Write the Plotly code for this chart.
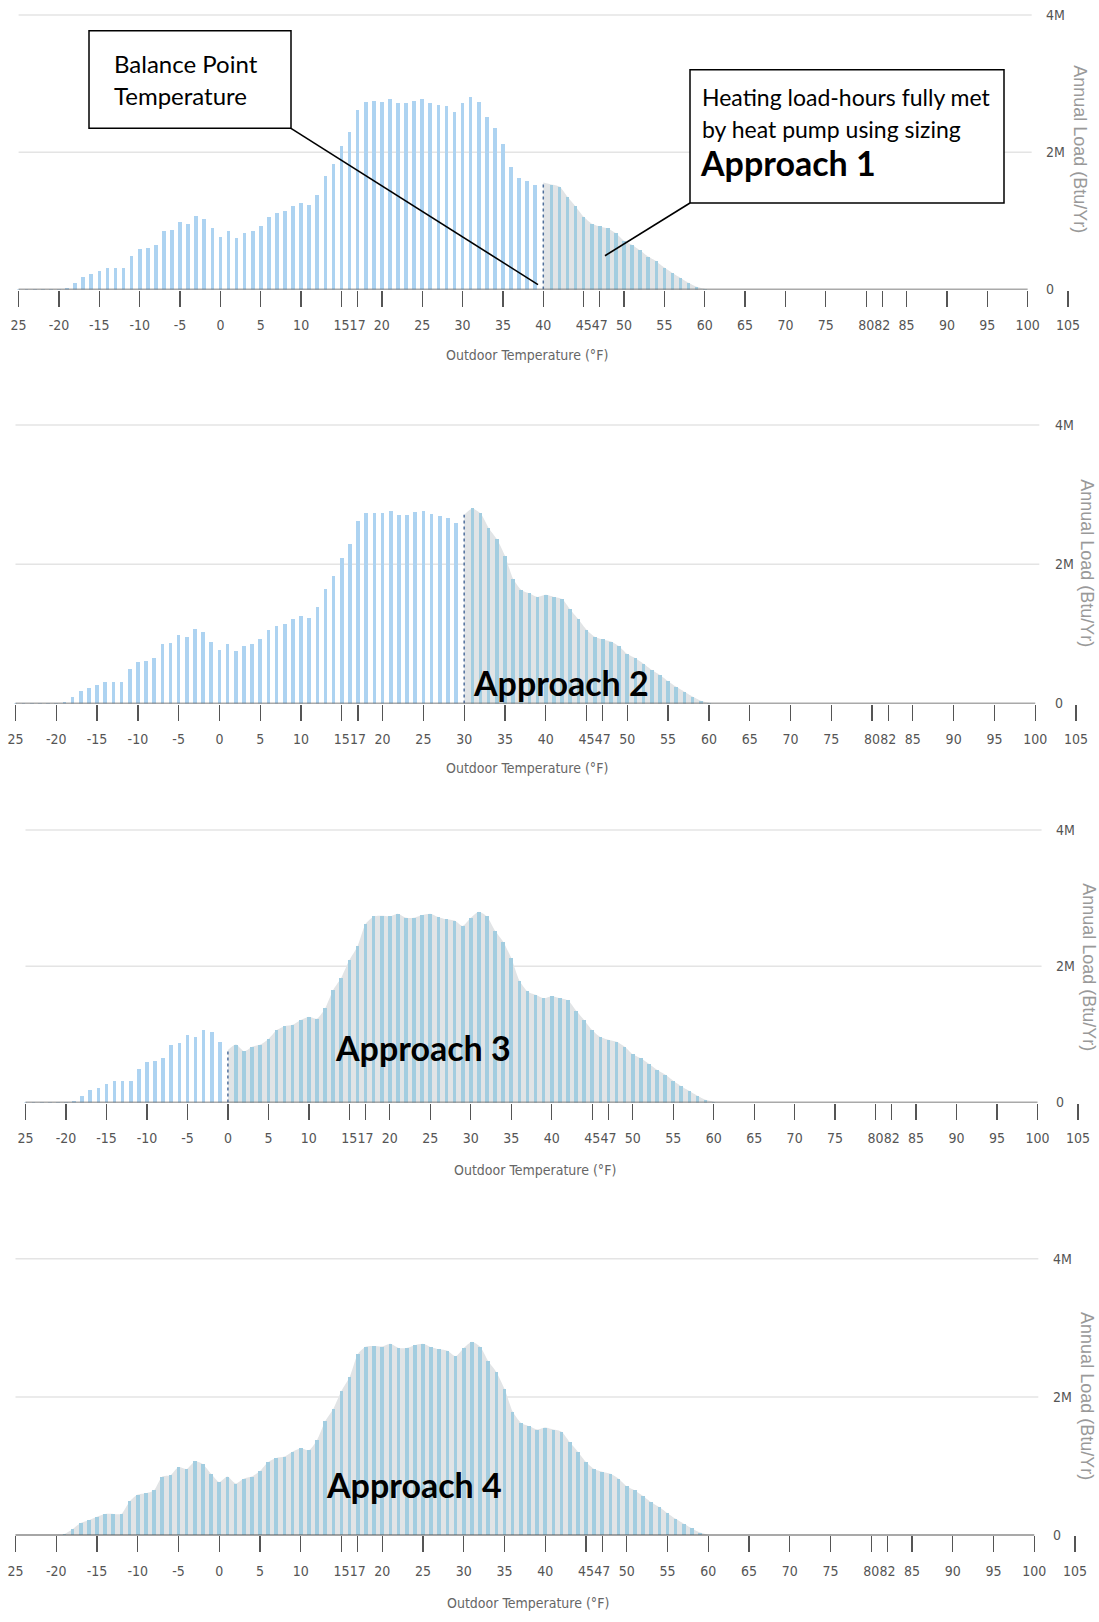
import plotly.graph_objects as go

# ---------------- data ----------------
temps = list(range(-25, 61))
load_mbtu = [
    0.01, 0.01, 0.01, 0.01, 0.01, 0.01, 0.02,                  # -25..-19
    0.09, 0.18, 0.22, 0.27, 0.31, 0.31, 0.31, 0.49,            # -18..-11
    0.59, 0.61, 0.65, 0.85, 0.87, 0.99, 0.96, 1.07, 1.03, 0.89,  # -10..-1
    0.77, 0.85, 0.75, 0.82, 0.85, 0.93, 1.06, 1.12, 1.14, 1.21,  # 0..9
    1.26, 1.23, 1.38, 1.65, 1.83, 2.09, 2.29, 2.62, 2.73, 2.74,  # 10..19
    2.73, 2.77, 2.71, 2.71, 2.75, 2.77, 2.72, 2.69, 2.67, 2.59,  # 20..29
    2.71, 2.80, 2.73, 2.52, 2.36, 2.12, 1.79, 1.63, 1.58, 1.53,  # 30..39
    1.56, 1.53, 1.50, 1.35, 1.21, 1.06, 0.96, 0.92, 0.89, 0.82,  # 40..49
    0.71, 0.65, 0.57, 0.48, 0.41, 0.32, 0.24, 0.17, 0.10, 0.04,  # 50..59
    0.01,                                                        # 60
]
balance_points = [40, 30, 0, None]
approach_labels = ["Approach 1", "Approach 2", "Approach 3", "Approach 4"]
x_tick_vals = [-25, -20, -15, -10, -5, 0, 5, 10, 15, 17, 20, 25, 30, 35, 40, 45, 47,
               50, 55, 60, 65, 70, 75, 80, 82, 85, 90, 95, 100, 105]
x_tick_text = ["25"] + [str(v) for v in x_tick_vals[1:]]
y_tick_vals = [0, 2e6, 4e6]
y_tick_text = ["0", "2M", "4M"]
x_title = "Outdoor Temperature (°F)"
y_title = "Annual Load (Btu/Yr)"

# ---------------- layout geometry (page pixels) ----------------
W, H = 1099, 1622
panels = [
    dict(base=291, top=15, xa=18.6, xb=1068, ylab=1045, yt=(1080, 150), xt=(527, 357)),
    dict(base=707, top=427, xa=15.5, xb=1076, ylab=1054, yt=(1087, 566), xt=(527, 772)),
    dict(base=1108, top=834, xa=25.5, xb=1078, ylab=1055, yt=(1089, 972), xt=(535, 1176)),
    dict(base=1543, top=1265, xa=15.5, xb=1075, ylab=1052, yt=(1087, 1403), xt=(528, 1611)),
]
approach_pos = [None, (561, 686), (423, 1053), (414, 1492)]

BLUE = "#add3f1"
TEAL = "#a3cde0"
GREY = "#e1e4e6"
DOT = "#4f6f9c"
NARROW = "Liberation Sans Narrow, Arial Narrow, DejaVu Sans Condensed, sans-serif"
TICKFONT = dict(family=NARROW, size=14, color="#555555")

loads = [v * 1e6 for v in load_mbtu]

fig = go.Figure()
shapes = []
annotations = []
layout = {}

def px2x(px):
    return px / W

def px2y(py):
    return 1 - py / H

def axname(letter, k):
    return letter if k == 1 else f"{letter}{k}"

for i, p in enumerate(panels):
    n = i + 1
    m = n + 4  # overlay axes for bars (drawn above the grey area)
    xb_, yb_ = axname("x", n), axname("y", n)
    xo_, yo_ = axname("x", m), axname("y", m)
    bp = balance_points[i]

    # grey area: load met by heat pump
    start = bp if bp is not None else temps[0]
    ax_ = [t for t in temps if t >= start]
    ay_ = [v for t, v in zip(temps, loads) if t >= start]
    fig.add_trace(go.Scatter(x=ax_, y=ay_, mode="lines",
                             line=dict(width=0, shape="spline", smoothing=0.6),
                             fill="tozeroy", fillcolor=GREY, hoverinfo="skip", showlegend=False,
                             xaxis=xb_, yaxis=yb_))
    if bp is not None:
        bx = [t for t in temps if t < bp]
        by = [v for t, v in zip(temps, loads) if t < bp]
        fig.add_trace(go.Bar(x=bx, y=by, width=0.45, marker=dict(color=BLUE, line=dict(width=0)),
                             showlegend=False, xaxis=xo_, yaxis=yo_))
        tx = [t for t in temps if t > bp]
        ty = [v for t, v in zip(temps, loads) if t > bp]
    else:
        tx, ty = temps, loads
    fig.add_trace(go.Bar(x=tx, y=ty, width=0.45, marker=dict(color=TEAL, line=dict(width=0)),
                         showlegend=False, xaxis=xo_, yaxis=yo_))
    if bp is not None:
        bv = loads[temps.index(bp)]
        fig.add_trace(go.Scatter(x=[bp, bp], y=[0, bv], mode="lines",
                                 line=dict(color=DOT, width=1.5, dash="dot"),
                                 showlegend=False, hoverinfo="skip", xaxis=xo_, yaxis=yo_))

    ppd = (p["xb"] - p["xa"]) / 130.0
    xr = [-25 - p["xa"] / ppd, 105 + (W - p["xb"]) / ppd]
    kpm = (p["base"] - p["top"]) / 4e6
    ymax = min(4.2e6, (p["base"] - 0.5) / kpm)
    top_px = p["base"] - ymax * kpm
    ydom = [px2y(p["base"]), px2y(top_px)]

    layout["xaxis" + ("" if n == 1 else str(n))] = dict(
        domain=[0, 1], range=xr, anchor=yb_, tickmode="array",
        tickvals=x_tick_vals, ticktext=x_tick_text, ticks="outside", ticklen=16,
        tickwidth=1.3, tickcolor="#555555", showline=False, showgrid=False, zeroline=False,
        tickangle=0, tickfont=TICKFONT, ticklabelstandoff=7, ticklabeloverflow="allow",
        fixedrange=True)
    layout["yaxis" + ("" if n == 1 else str(n))] = dict(
        domain=ydom, range=[0, ymax], anchor="free", position=px2x(p["ylab"]), side="right",
        tickmode="array", tickvals=y_tick_vals, ticktext=y_tick_text, ticks="",
        showgrid=False, zeroline=False, showline=False, tickfont=TICKFONT, fixedrange=True)
    layout[f"xaxis{m}"] = dict(overlaying=xb_, anchor=yo_, range=xr, visible=False, fixedrange=True)
    layout[f"yaxis{m}"] = dict(overlaying=yb_, anchor=xo_, range=[0, ymax], visible=False,
                               fixedrange=True)

    for gv in [2e6, 4e6]:
        shapes.append(dict(type="line", xref=xb_, yref=yb_, x0=-25, x1=100.5, y0=gv, y1=gv,
                           line=dict(color="#e4e4e4", width=1.5), layer="below"))
    shapes.append(dict(type="line", xref=xb_, yref=yb_, x0=-25, x1=100, y0=0, y1=0,
                       line=dict(color="#555555", width=1.6), layer="above"))

    annotations.append(dict(text=x_title, xref="paper", yref="paper", x=px2x(p["xt"][0]),
                            y=px2y(p["xt"][1]), xanchor="center", yanchor="middle", showarrow=False,
                            font=dict(family=NARROW, size=14, color="#666666")))
    annotations.append(dict(text=y_title, xref="paper", yref="paper", x=px2x(p["yt"][0]),
                            y=px2y(p["yt"][1]), xanchor="center", yanchor="middle", showarrow=False,
                            textangle=90, font=dict(family="Liberation Sans, Arial, sans-serif",
                                                    size=18, color="#999999")))
    if approach_pos[i] is not None:
        annotations.append(dict(text=f"<b>{approach_labels[i]}</b>", xref="paper", yref="paper",
                                x=px2x(approach_pos[i][0]), y=px2y(approach_pos[i][1]),
                                xanchor="center", yanchor="middle", showarrow=False,
                                font=dict(family="Lato, sans-serif", size=34, color="black")))

# callout boxes on panel 1
shapes.append(dict(type="rect", xref="paper", yref="paper", x0=px2x(89), x1=px2x(291),
                   y0=px2y(129), y1=px2y(31), line=dict(color="black", width=1.5),
                   fillcolor="white", layer="above"))
shapes.append(dict(type="line", xref="paper", yref="paper", x0=px2x(291), y0=px2y(129),
                   x1=px2x(538), y1=px2y(286), line=dict(color="black", width=1.6)))
shapes.append(dict(type="rect", xref="paper", yref="paper", x0=px2x(690), x1=px2x(1004),
                   y0=px2y(204), y1=px2y(70), line=dict(color="black", width=1.5),
                   fillcolor="white", layer="above"))
shapes.append(dict(type="line", xref="paper", yref="paper", x0=px2x(690), y0=px2y(204),
                   x1=px2x(605), y1=px2y(257), line=dict(color="black", width=1.6)))

for txt, (x, y), sz in [("Balance Point", (112, 64), 24), ("Temperature", (112, 96), 24),
                        ("Heating load-hours fully met", (700, 97), 23),
                        ("by heat pump using sizing", (700, 130), 23)]:
    annotations.append(dict(text=txt, xref="paper", yref="paper", x=px2x(x), y=px2y(y),
                            xanchor="left", yanchor="middle", showarrow=False,
                            font=dict(family="Lato, sans-serif", size=sz, color="black")))
annotations.append(dict(text=f"<b>{approach_labels[0]}</b>", xref="paper", yref="paper",
                        x=px2x(698), y=px2y(163), xanchor="left", yanchor="middle", showarrow=False,
                        font=dict(family="Lato, sans-serif", size=34, color="black")))

fig.update_layout(
    width=W, height=H, margin=dict(l=0, r=0, t=0, b=0),
    paper_bgcolor="white", plot_bgcolor="white",
    barmode="overlay", bargap=0, showlegend=False, hovermode=False,
    shapes=shapes, annotations=annotations, **layout)

fig.write_html("out.html", config={"displayModeBar": False, "staticPlot": True},
               post_script="document.body.style.margin='0';document.body.style.overflow='hidden';")
